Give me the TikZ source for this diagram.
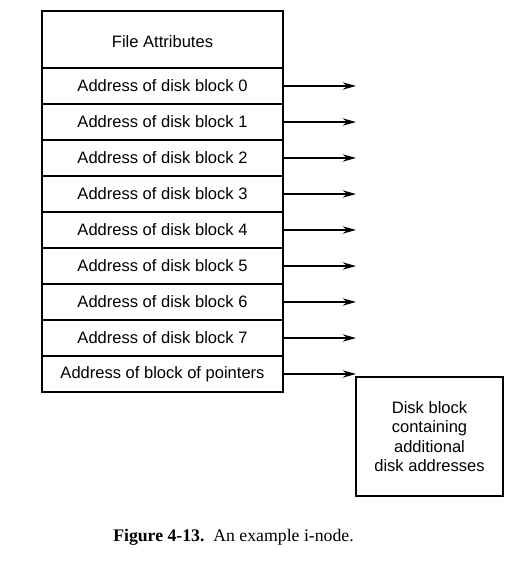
\documentclass[tikz,border=0pt]{standalone}
\usepackage{fontspec}
\setmainfont{Liberation Serif}
\setsansfont{Liberation Sans}
\usetikzlibrary{positioning, arrows.meta}

\begin{document}
\begin{tikzpicture}[
            x=0.75pt, y=-0.75pt,
            node distance = 0pt,
            field/.style = {draw, line width=1pt, outer sep=0pt, inner sep=0pt,
                minimum width=180.75pt, minimum height=27pt,
                font=\sffamily\fontsize{12.4}{14.6}\selectfont},
            line/.style = {draw, line width=1.1pt, -{Stealth[length=10pt, width=5.5pt]}},
            ]
            \useasboundingbox (0,0) rectangle (514,563);

            \node[field, minimum height=42.75pt, text height=12.6pt] (attr) at (162.5,39.5) {File Attributes};
            \node[field, below=of attr] (b0) {Address of disk block 0};
            \node[field, below=of b0] (b1) {Address of disk block 1};
            \node[field, below=of b1] (b2) {Address of disk block 2};
            \node[field, below=of b2] (b3) {Address of disk block 3};
            \node[field, below=of b3] (b4) {Address of disk block 4};
            \node[field, below=of b4] (b5) {Address of disk block 5};
            \node[field, below=of b5] (b6) {Address of disk block 6};
            \node[field, below=of b6] (b7) {Address of disk block 7};
            \node[field, below=of b7] (ptr) {Address of block of pointers};

            \node[field, minimum width=110.25pt, minimum height=89.25pt, align=center]
                (disk) at (429.5,436.5) {Disk block\\containing\\additional\\disk addresses};

            \draw[line] (b0.east) -- (b0.east -| disk.west);
            \draw[line] (b1.east) -- (b1.east -| disk.west);
            \draw[line] (b2.east) -- (b2.east -| disk.west);
            \draw[line] (b3.east) -- (b3.east -| disk.west);
            \draw[line] (b4.east) -- (b4.east -| disk.west);
            \draw[line] (b5.east) -- (b5.east -| disk.west);
            \draw[line] (b6.east) -- (b6.east -| disk.west);
            \draw[line] (b7.east) -- (b7.east -| disk.west);
            \draw[line] (ptr.east) -- (ptr.east -| disk.west);

            \node[font=\fontsize{13.3}{16}\selectfont] (caption) at (233.5,537)
                {\textbf{Figure 4-13.}\enspace An example i-node.};
        \end{tikzpicture}
\end{document}
